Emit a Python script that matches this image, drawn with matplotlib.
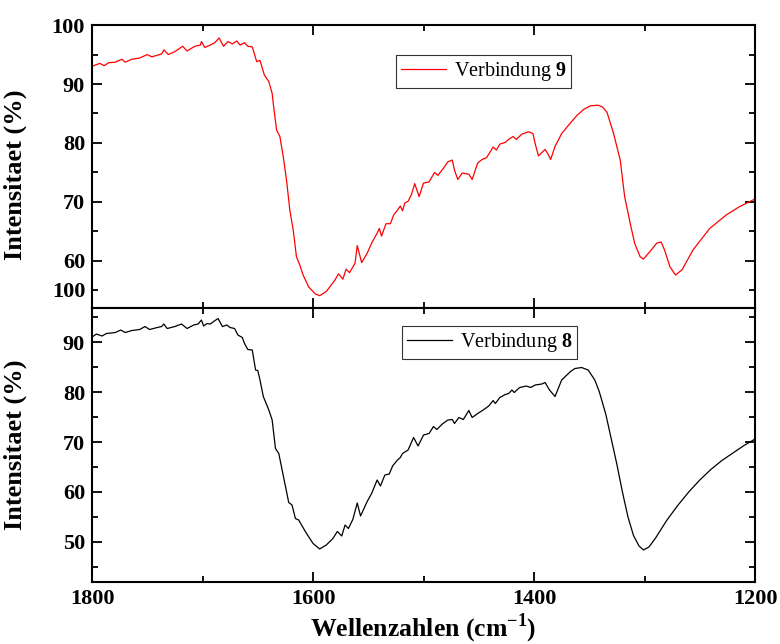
import numpy as np
import matplotlib
matplotlib.use("Agg")
import matplotlib.pyplot as plt
from matplotlib.ticker import MultipleLocator

plt.rcParams['font.family'] = ['Liberation Serif', 'DejaVu Serif']
plt.rcParams['mathtext.fontset'] = 'custom'
plt.rcParams['mathtext.rm'] = 'Liberation Serif'
plt.rcParams['mathtext.bf'] = 'Liberation Serif:bold'

# Verbindung 9 (top panel)
wn9 = [1800, 1793, 1789, 1785, 1779, 1773, 1770, 1764, 1757, 1750, 1746, 1737,
       1735, 1731, 1725, 1718, 1714, 1707, 1702, 1701, 1698, 1693, 1689, 1685,
       1681, 1677, 1673, 1669, 1666, 1662, 1659, 1655, 1651, 1648, 1644, 1640,
       1637, 1636, 1633, 1630, 1627, 1624, 1621, 1618, 1615, 1612, 1609, 1604,
       1598, 1594, 1588, 1580, 1577, 1573, 1570, 1567, 1562, 1560, 1556, 1551,
       1547, 1542, 1540, 1538, 1534, 1530, 1527, 1524, 1521, 1519, 1517, 1514,
       1511, 1508, 1504, 1500, 1495, 1490, 1487, 1482, 1478, 1474, 1472, 1469,
       1465, 1459, 1456, 1451, 1447, 1443, 1437, 1434, 1431, 1426, 1423, 1419,
       1416, 1411, 1405, 1401, 1399, 1396, 1395, 1390, 1387, 1385, 1381, 1375,
       1367, 1361, 1355, 1349, 1342, 1338, 1334, 1328, 1322, 1318, 1313, 1309,
       1304, 1301, 1295, 1289, 1285, 1282, 1277, 1272, 1266, 1256, 1241, 1226,
       1214, 1200]
t9 = [93.0, 93.5, 93.1, 93.6, 93.7, 94.2, 93.7, 94.2, 94.4, 95.0, 94.6, 95.1,
      95.8, 95.0, 95.5, 96.4, 95.6, 96.4, 96.6, 97.2, 96.2, 96.6, 97.0, 97.8,
      96.4, 97.2, 96.8, 97.3, 96.6, 97.0, 96.4, 96.3, 93.8, 94.0, 91.5, 90.4,
      88.4, 86.7, 82.2, 81.1, 77.7, 73.7, 68.6, 65.3, 60.7, 59.3, 57.6, 55.6,
      54.4, 54.1, 54.8, 56.8, 57.8, 56.9, 58.6, 58.0, 59.6, 62.6, 59.7, 61.3,
      63.0, 64.7, 65.5, 64.2, 66.3, 66.3, 67.8, 68.5, 69.3, 68.5, 69.8, 70.1,
      71.2, 73.1, 70.9, 73.2, 73.4, 75.0, 74.5, 75.7, 76.8, 77.1, 75.4, 73.8,
      74.9, 74.7, 73.8, 76.6, 77.2, 77.5, 79.3, 78.8, 79.8, 80.1, 80.6, 81.1,
      80.6, 81.5, 81.9, 81.6, 79.9, 77.8, 78.0, 78.9, 78.0, 77.2, 79.4, 81.6,
      83.4, 84.7, 85.7, 86.3, 86.4, 86.1, 85.2, 81.6, 77.1, 70.9, 66.4, 63.0,
      60.7, 60.3, 61.6, 63.0, 63.2, 61.9, 59.0, 57.6, 58.5, 61.9, 65.5, 67.8,
      69.2, 70.5]

# Verbindung 8 (bottom panel)
wn8 = [1800, 1796, 1791, 1787, 1779, 1774, 1770, 1764, 1757, 1752, 1748, 1741,
       1737, 1735, 1732, 1725, 1719, 1714, 1708, 1704, 1701, 1699, 1696, 1693,
       1690, 1686, 1682, 1678, 1675, 1671, 1668, 1664, 1662, 1659, 1655, 1652,
       1650, 1648, 1645, 1640, 1637, 1634, 1631, 1628, 1625, 1622, 1619, 1616,
       1613, 1607, 1600, 1594, 1588, 1582, 1578, 1574, 1571, 1568, 1564, 1560,
       1557, 1551, 1547, 1542, 1539, 1535, 1531, 1528, 1524, 1521, 1519, 1514,
       1509, 1505, 1500, 1495, 1491, 1488, 1483, 1478, 1474, 1472, 1468, 1464,
       1459, 1456, 1451, 1446, 1441, 1437, 1435, 1431, 1426, 1423, 1420, 1418,
       1413, 1407, 1403, 1399, 1393, 1390, 1386, 1381, 1375, 1367, 1363, 1357,
       1351, 1345, 1341, 1335, 1330, 1325, 1320, 1315, 1310, 1305, 1301, 1296,
       1290, 1280, 1270, 1260, 1250, 1240, 1230, 1220, 1210, 1200]
t8 = [91.0, 91.6, 91.2, 91.7, 91.9, 92.4, 91.9, 92.3, 92.5, 93.1, 92.5, 92.9,
      93.1, 93.6, 92.7, 93.1, 93.6, 92.7, 93.4, 93.6, 94.4, 93.2, 93.7, 93.6,
      94.1, 94.7, 93.1, 93.4, 92.9, 92.7, 91.4, 90.9, 89.7, 88.5, 88.4, 84.4,
      84.3, 82.4, 79.1, 76.4, 74.4, 68.7, 67.7, 64.4, 61.1, 57.9, 57.4, 54.7,
      54.4, 52.1, 49.7, 48.6, 49.4, 50.7, 52.1, 51.2, 53.4, 52.7, 54.5, 57.8,
      55.2, 58.1, 59.7, 62.4, 61.2, 63.4, 63.6, 65.2, 66.3, 66.9, 67.7, 68.4,
      70.9, 69.2, 71.4, 71.7, 73.1, 72.5, 73.6, 74.4, 74.5, 73.7, 74.9, 74.5,
      76.3, 74.9, 75.7, 76.4, 77.2, 78.3, 77.7, 78.9, 79.5, 79.7, 80.4, 79.9,
      80.9, 81.2, 80.9, 81.4, 81.6, 81.9, 80.4, 79.1, 82.4, 84.1, 84.7, 84.9,
      84.4, 82.4, 80.1, 75.5, 70.5, 65.5, 60.0, 55.0, 51.3, 49.2, 48.4, 49.0,
      50.8, 54.3, 57.3, 60.0, 62.4, 64.5, 66.3, 67.8, 69.3, 70.6]

fig = plt.figure(figsize=(7.8, 6.44), dpi=100)
ax1 = fig.add_axes([0.118, 0.5217, 0.850, 0.4394])
ax2 = fig.add_axes([0.118, 0.0963, 0.850, 0.4254])

TICK_FS = 16
for ax in (ax1, ax2):
    ax.set_xlim(1800, 1200)
    ax.xaxis.set_major_locator(MultipleLocator(200))
    ax.xaxis.set_minor_locator(MultipleLocator(100))
    ax.yaxis.set_major_locator(MultipleLocator(10))
    ax.yaxis.set_minor_locator(MultipleLocator(5))
    ax.tick_params(which='both', direction='in', top=True, right=True, width=1.3)
    ax.tick_params(which='major', length=7, pad=5)
    ax.tick_params(which='minor', length=4)
    for s in ax.spines.values():
        s.set_linewidth(1.5)

ax1.plot(wn9, t9, color='red', lw=0.9, label=r'Verbindung $\mathbf{9}$')
ax1.set_ylim(52, 100)
ax1.tick_params(labelbottom=False)

ax2.plot(wn8, t8, color='black', lw=0.9, label=r'Verbindung $\mathbf{8}$')
ax2.set_ylim(42, 96.8)
# Origin draws the 100 label of the lower panel outside its range
ax2.text(-0.01, 100, "100", transform=ax2.get_yaxis_transform(),
         ha='right', va='center', clip_on=False, fontsize=TICK_FS,
         fontweight='bold')

for ax in (ax1, ax2):
    for lab in ax.get_yticklabels() + ax.get_xticklabels():
        lab.set_fontsize(TICK_FS)
        lab.set_fontweight('bold')

leg_kw = dict(fontsize=14.5, frameon=True, fancybox=False, handlelength=2.2,
              borderpad=0.25, handletextpad=0.4, borderaxespad=0)
l1 = ax1.legend(loc='upper left', bbox_to_anchor=(0.459, 0.894), **leg_kw)
l2 = ax2.legend(loc='upper left', bbox_to_anchor=(0.468, 0.934), **leg_kw)
for lg in (l1, l2):
    lg.get_frame().set_edgecolor('black')
    lg.get_frame().set_linewidth(0.8)

ax1.set_ylabel('Intensitaet (%)', fontsize=19, fontweight='bold')
ax2.set_ylabel('Intensitaet (%)', fontsize=19, fontweight='bold')
ax1.yaxis.set_label_coords(-0.098, 0.47)
ax2.yaxis.set_label_coords(-0.098, 0.5)
ax2.set_xlabel(r'Wellenzahlen (cm$^{\mathbf{-1}}$)', fontsize=18.5,
               fontweight='bold', labelpad=2)

fig.savefig('out.png', dpi=100)
